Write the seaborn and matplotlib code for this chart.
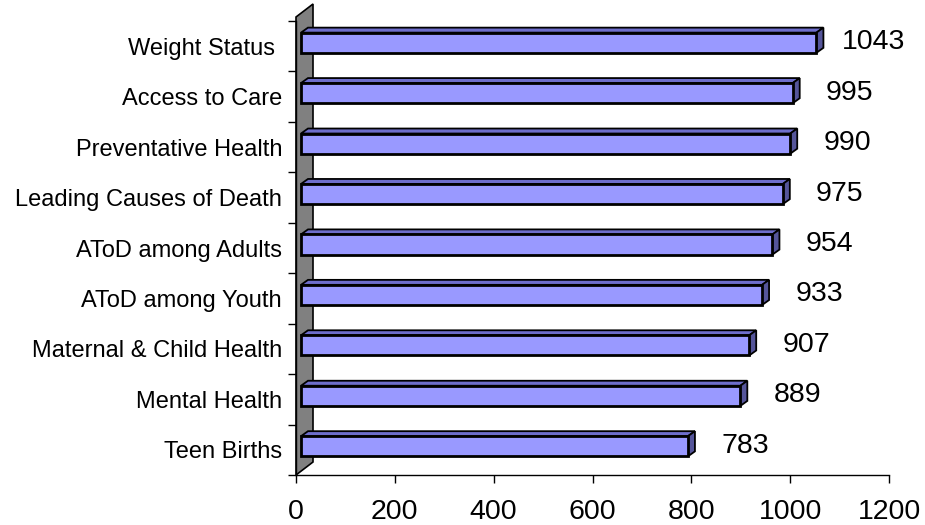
import matplotlib
matplotlib.use("Agg")
import matplotlib.pyplot as plt
from matplotlib.patches import Polygon
from matplotlib.transforms import Affine2D, IdentityTransform
import seaborn as sns
import pandas as pd

# Topics and their counts, top to bottom
categories = [
    "Weight Status ",
    "Access to Care",
    "Preventative Health",
    "Leading Causes of Death",
    "AToD among Adults",
    "AToD among Youth",
    "Maternal & Child Health",
    "Mental Health",
    "Teen Births",
]
counts = [1043, 995, 990, 975, 954, 933, 907, 889, 783]
x_ticks = [0, 200, 400, 600, 800, 1000, 1200]

sns.set_theme(style="white")
plt.rcParams["font.family"] = ["Liberation Sans", "DejaVu Sans"]
plt.rcParams["text.color"] = "black"
plt.rcParams["xtick.color"] = "black"
plt.rcParams["ytick.color"] = "black"

FRONT = "#9999FF"
TOP = "#6E6ECC"
SIDE = "#55559A"
WALL = "#808080"

fig = plt.figure(figsize=(9.25, 5.25), dpi=100)
ax = fig.add_axes([296 / 925, 50 / 525, 593 / 925, 454 / 525])

df = pd.DataFrame({"topic": categories, "count": counts})
sns.barplot(data=df, y="topic", x="count", orient="h", color=FRONT,
            saturation=1, width=0.4, edgecolor="black", linewidth=2.0,
            ax=ax, zorder=3)

ax.set_xlim(x_ticks[0], x_ticks[-1])
ax.set_ylim(len(categories) - 0.5, -0.5)
ax.set_xlabel("")
ax.set_ylabel("")
ax.set_facecolor("white")
ax.grid(False)

# depth of the 3-D look, in pixels
dx, dy = 7, 5
shift = Affine2D().translate(5, 3.5)
ident = IdentityTransform()

bars = list(ax.patches)
for bar in bars:
    bar.set_transform(ax.transData + shift)
    x0, y0 = bar.get_x(), bar.get_y()
    x1, y1 = x0 + bar.get_width(), y0 + bar.get_height()
    (px0, pyb), (px1, pyt) = (ax.transData + shift).transform([(x0, y1), (x1, y0)])
    top = Polygon([(px0, pyt), (px0 + dx, pyt + dy), (px1 + dx, pyt + dy), (px1, pyt)],
                  closed=True, facecolor=TOP, edgecolor="black", linewidth=1.3,
                  transform=ident, zorder=2.9, clip_on=False)
    side = Polygon([(px1, pyt), (px1 + dx, pyt + dy), (px1 + dx, pyb + dy), (px1, pyb)],
                   closed=True, facecolor=SIDE, edgecolor="black", linewidth=1.3,
                   transform=ident, zorder=2.9, clip_on=False)
    ax.add_patch(top)
    ax.add_patch(side)

# grey side wall behind the bars
(wx, wyb), (_, wyt) = ax.transData.transform([(0, len(categories) - 0.5), (0, -0.5)])
wall = Polygon([(wx, wyb), (wx, wyt + 4), (wx + 17, wyt + 17), (wx + 17, wyb + 13)],
               closed=True, facecolor=WALL, edgecolor="black", linewidth=1.2,
               transform=ident, zorder=1.5, clip_on=False)
ax.add_patch(wall)

# value labels
for i, v in enumerate(counts):
    ax.annotate(str(v), xy=(v, i), xytext=(62, 4), textcoords="offset pixels",
                ha="center", va="center", fontsize=20.5, color="black",
                annotation_clip=False)

# axes styling
for s in ("top", "right"):
    ax.spines[s].set_visible(False)
for s in ("left", "bottom"):
    ax.spines[s].set_color("black")
    ax.spines[s].set_linewidth(1.0)

ax.set_xticks(x_ticks)
ax.set_xticklabels([str(t) for t in x_ticks])
ax.tick_params(axis="x", which="major", bottom=True, length=6, width=1,
               color="black", labelcolor="black", labelsize=20.5, pad=11,
               direction="out")

ax.set_yticks(range(len(categories)))
ax.set_yticklabels(categories)
ax.set_yticks([i - 0.5 for i in range(len(categories) + 1)], minor=True)
ax.tick_params(axis="y", which="major", left=True, length=0, labelsize=17,
               labelcolor="black", pad=10)
ax.tick_params(axis="y", which="minor", left=True, length=6, width=1,
               color="black", direction="out")

fig.savefig("out.png", dpi=100)
